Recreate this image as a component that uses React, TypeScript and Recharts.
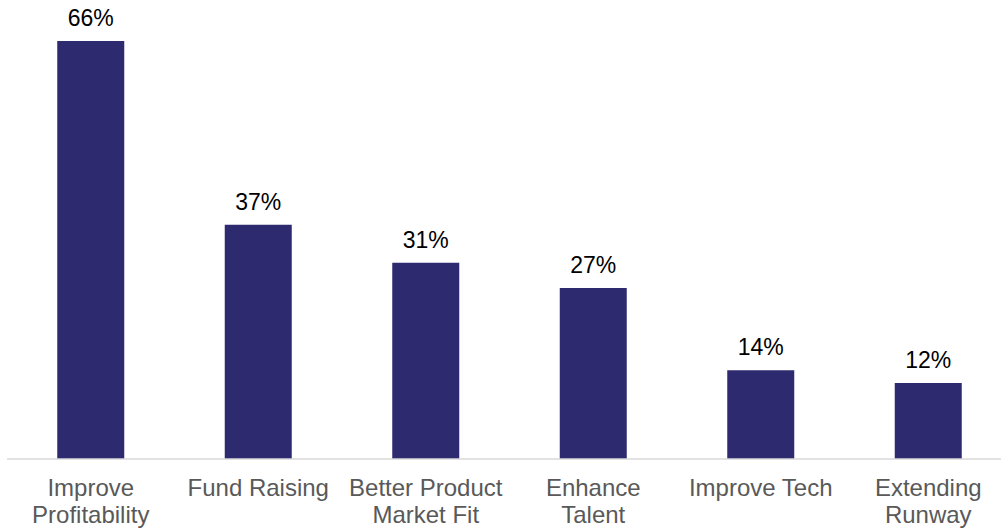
import { BarChart, Bar, XAxis, YAxis, LabelList } from 'recharts'

const categories = [
  'Improve\nProfitability',
  'Fund Raising',
  'Better Product\nMarket Fit',
  'Enhance\nTalent',
  'Improve Tech',
  'Extending\nRunway',
]
const shares = [66, 37, 31, 27, 14, 12]

const data = categories.map((name, i) => ({ name, share: shares[i] }))

const FONT = '"Liberation Sans", Arial, sans-serif'

function CategoryTick(props: any) {
  const { x, y, payload } = props
  const lines = String(payload.value).split('\n')
  return (
    <text
      x={x}
      y={y + 37}
      textAnchor="middle"
      fill="#595959"
      fontSize={24}
      fontFamily={FONT}
    >
      {lines.map((line, i) => (
        <tspan key={i} x={x} dy={i === 0 ? 0 : 27}>
          {line}
        </tspan>
      ))}
    </text>
  )
}

export default function App() {
  return (
    <div
      style={{
        position: 'absolute',
        left: 0,
        top: 0,
        width: 1001,
        height: 529,
        overflow: 'hidden',
        background: '#fff',
      }}
    >
      <BarChart
        width={1012}
        height={529}
        data={data}
        margin={{ top: 41, right: 0, left: 7, bottom: 40 }}
        barCategoryGap="30%"
      >
        <XAxis
          dataKey="name"
          height={30}
          axisLine={{ stroke: '#d9d9d9', strokeWidth: 1.5 }}
          tickLine={false}
          tickSize={0}
          tickMargin={0}
          interval={0}
          tick={<CategoryTick />}
        />
        <YAxis hide domain={[0, 66]} />
        <Bar dataKey="share" fill="#2E2A70" isAnimationActive={false}>
          <LabelList
            dataKey="share"
            position="top"
            offset={15}
            formatter={(v: any) => `${v}%`}
            fill="#000"
            fontSize={23}
            fontFamily={FONT}
          />
        </Bar>
      </BarChart>
    </div>
  )
}
